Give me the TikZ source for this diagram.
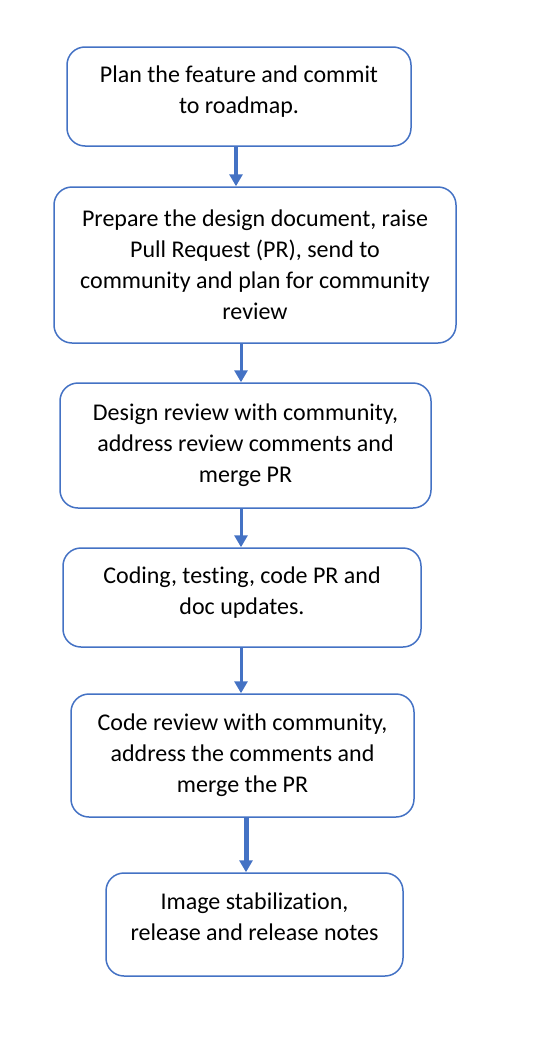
\documentclass[tikz,border=0pt]{standalone}
\usepackage{fontspec}
\setmainfont{Carlito}[Ligatures=NoCommon]
\usetikzlibrary{arrows.meta}
\definecolor{boxblue}{HTML}{4472C4}
\begin{document}
\begin{tikzpicture}[x=1pt,y=-1pt,>={Triangle[width=13pt,length=12pt]},
    font=\fontsize{24}{31}\selectfont, line join=round,
    stage/.style={draw=boxblue, line width=1.5pt, rounded corners=18pt, align=center, inner sep=0pt},
    flow/.style={->, draw=boxblue, fill=boxblue, line width=3pt}]
    \useasboundingbox (0,0) rectangle (550,1052);
    % Schritte
    \node[stage, minimum width=344pt, minimum height=99pt, text depth=14pt] (plan) at (239,96.5)
        {Plan the feature and commit\\to roadmap.};
    \node[stage, minimum width=402pt, minimum height=156pt] (design) at (255,265)
        {Prepare the design document, raise\\Pull Request (PR), send to\\community and plan for community\\review};
    \node[stage, minimum width=371pt, minimum height=125pt] (review) at (245.5,445.5)
        {Design review with community,\\address review comments and\\merge PR};
    \node[stage, minimum width=358pt, minimum height=99pt, text depth=14pt] (coding) at (242,597.5)
        {Coding, testing, code PR and\\doc updates.};
    \node[stage, minimum width=343pt, minimum height=123pt] (codereview) at (242.5,755.5)
        {Code review with community,\\address the comments and\\merge the PR};
    \node[stage, minimum width=297pt, minimum height=103pt, text depth=16pt] (release) at (254.5,924.5)
        {Image stabilization,\\release and release notes};
    % Pfeile
    \draw[flow, line width=4pt] ([xshift=-3pt]plan.south) -- ([xshift=-3pt]plan.south |- design.north);
    \draw[flow] ([xshift=-14pt]design.south) -- ([xshift=-14pt]design.south |- review.north);
    \draw[flow] ([xshift=-4.5pt]review.south) -- ([xshift=-4.5pt]review.south |- coding.north);
    \draw[flow] ([xshift=-1pt]coding.south) -- ([xshift=-1pt]coding.south |- codereview.north);
    \draw[flow, line width=5pt] ([xshift=3.5pt]codereview.south) -- ([xshift=3.5pt]codereview.south |- release.north);
\end{tikzpicture}
\end{document}
